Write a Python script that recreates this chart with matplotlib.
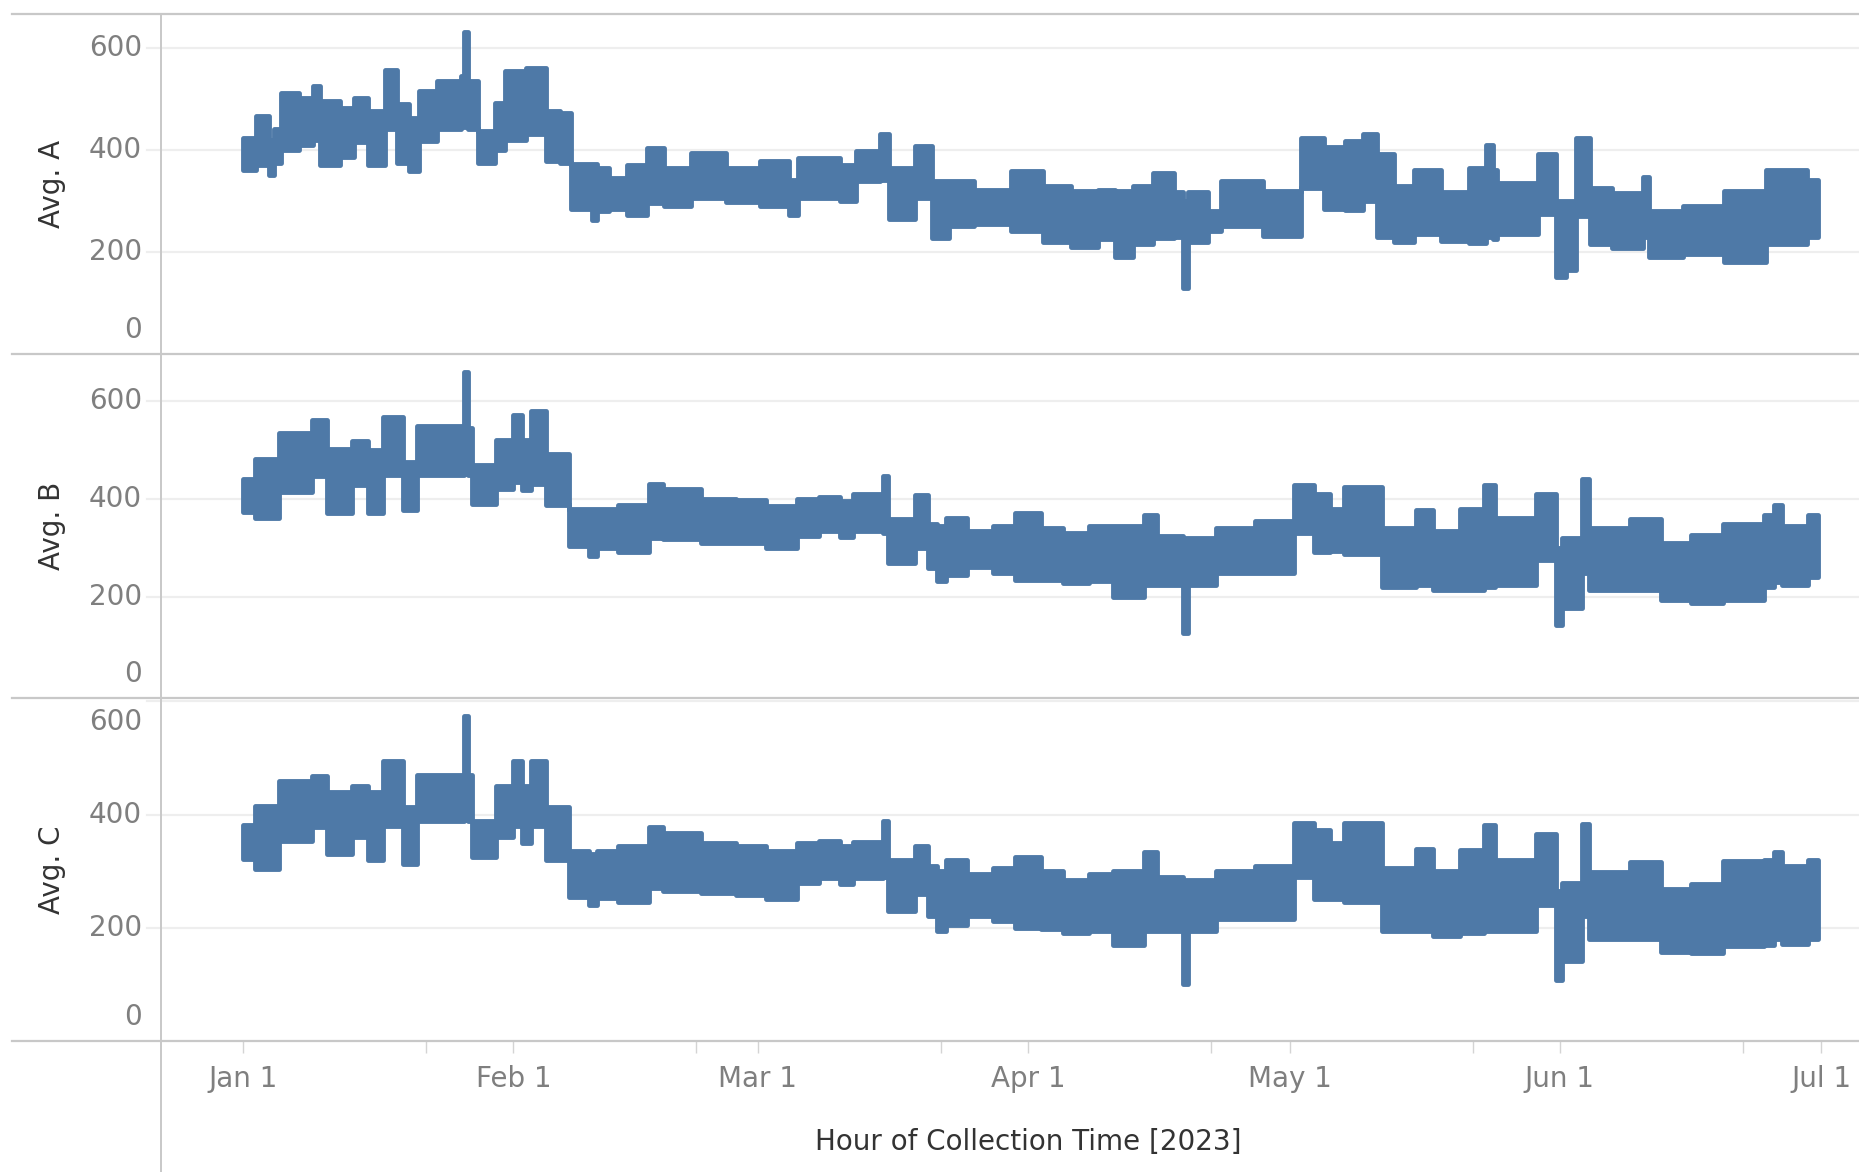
import matplotlib
matplotlib.use("Agg")
import matplotlib.pyplot as plt
import matplotlib.dates as mdates
from matplotlib.lines import Line2D
from matplotlib.ticker import FuncFormatter
import pandas as pd

# hourly sensor averages, summarised as stretches of days (start day after Jan 1 2023)
# with the lowest and highest hourly value in each stretch
a_day = [0.0, 1.5, 3.0, 3.6, 4.4, 6.4, 8.0, 8.8, 11.1, 12.7, 14.3, 16.3, 17.7, 19.0, 20.2,
         22.2, 25.0, 25.3, 25.8, 26.9, 28.9, 30.1, 32.5, 34.8, 36.4, 37.6, 40.0, 40.6, 42.0,
         44.0, 46.3, 48.3, 51.4, 55.4, 59.3, 62.6, 63.6, 68.4, 70.3, 73.1, 74.1, 77.1, 79.0,
         81.0, 83.8, 88.1, 91.7, 95.0, 98.0, 100.0, 102.0, 104.3, 106.7, 107.8, 108.4, 110.6,
         112.2, 117.0, 121.3, 124.0, 126.4, 128.4, 130.0, 132.0, 134.3, 137.4, 140.6, 142.5,
         143.3, 143.8, 148.5, 150.5, 151.7, 152.9, 154.4, 157.0, 160.5, 161.2, 165.1, 169.8,
         174.6, 179.3]
a_lo = [361, 370, 350, 375, 400, 410, 420, 370, 385, 415, 370, 440, 375, 358, 417,
        440, 445, 445, 440, 375, 400, 420, 430, 378, 375, 285, 262, 280, 285,
        272, 295, 290, 305, 298, 290, 272, 305, 300, 338, 340, 265, 306, 228,
        250, 254, 240, 220, 210, 225, 190, 215, 227, 230, 130, 220, 240,
        250, 232, 325, 285, 282, 299, 230, 220, 235, 222, 218, 230,
        225, 235, 274, 150, 165, 270, 215, 208, 230, 190, 195, 180,
        215, 230]
a_hi = [423, 466, 420, 440, 512, 502, 525, 495, 482, 502, 476, 557, 490, 463, 515,
        535, 545, 630, 535, 437, 492, 555, 560, 476, 473, 372, 372, 365, 345,
        370, 404, 365, 394, 365, 378, 340, 383, 370, 398, 430, 365, 408, 339,
        339, 322, 358, 330, 320, 322, 320, 330, 355, 318, 300, 318, 280,
        339, 320, 423, 405, 417, 430, 392, 330, 360, 318, 365, 410,
        360, 335, 392, 299, 299, 423, 325, 315, 346, 280, 290, 320,
        360, 340]

bc_day = [0.0, 1.4, 4.1, 7.9, 9.6, 12.5, 14.3, 16.0, 18.4, 20.0, 25.3, 25.8, 26.3, 29.0,
          31.0, 32.0, 33.0, 34.8, 37.4, 39.7, 40.6, 43.0, 46.5, 48.2, 52.5, 56.5, 60.0,
          63.5, 66.0, 68.5, 70.0, 73.4, 74.0, 77.0, 78.5, 79.6, 80.6, 83.0, 86.0, 88.5,
          91.5, 94.0, 97.0, 99.8, 103.3, 104.8, 107.8, 108.4, 111.6, 116.0, 120.5, 122.8,
          124.6, 126.2, 130.6, 134.5, 136.5, 139.5, 142.3, 143.6, 148.3, 150.6, 151.3,
          153.5, 154.3, 159.0, 162.6, 166.0, 169.7, 174.4, 175.5, 176.5, 179.5]
b_lo = [374, 361, 414, 448, 371, 428, 371, 450, 378, 450, 455, 450, 390, 420,
        435, 418, 430, 388, 305, 284, 300, 292, 320, 318, 310, 310, 300,
        325, 335, 322, 335, 330, 270, 300, 260, 233, 245, 262, 250, 235,
        235, 228, 232, 200, 225, 225, 126, 225, 250, 250, 330, 292,
        295, 288, 220, 225, 215, 215, 220, 225, 275, 143, 177,
        250, 215, 215, 195, 188, 195, 220, 230, 225, 240]
b_hi = [441, 481, 535, 562, 502, 518, 501, 568, 475, 550, 659, 545, 470, 520,
        572, 520, 580, 491, 380, 380, 380, 388, 431, 420, 400, 398, 385,
        400, 405, 395, 410, 448, 360, 408, 350, 345, 361, 335, 345, 372,
        340, 330, 345, 344, 367, 325, 320, 320, 340, 355, 428, 410,
        380, 424, 340, 378, 335, 380, 428, 362, 411, 300, 320,
        441, 340, 360, 310, 327, 350, 367, 388, 345, 367]
c_lo = [322, 304, 354, 378, 330, 360, 320, 380, 313, 388, 395, 388, 325, 360,
        380, 350, 380, 319, 255, 240, 252, 245, 270, 265, 262, 258, 250,
        280, 288, 278, 288, 290, 230, 260, 220, 195, 205, 220, 212, 200,
        198, 190, 195, 170, 195, 195, 101, 195, 215, 215, 290, 250,
        250, 245, 195, 195, 185, 190, 195, 195, 240, 107, 142,
        220, 180, 180, 158, 155, 168, 170, 180, 172, 180]
c_hi = [381, 416, 460, 469, 440, 450, 440, 495, 413, 470, 575, 470, 389, 450,
        495, 450, 495, 413, 335, 330, 335, 345, 378, 368, 350, 345, 335,
        350, 354, 345, 352, 389, 319, 345, 310, 300, 319, 295, 305, 325,
        301, 285, 295, 301, 334, 290, 285, 285, 300, 310, 385, 372,
        350, 385, 305, 340, 300, 338, 381, 320, 366, 265, 280,
        384, 298, 316, 269, 278, 318, 320, 334, 310, 320]
last_day = 180.6

titles = ["Avg. A", "Avg. B", "Avg. C"]
y_ticks = [0, 200, 400, 600]
x_title = "Hour of Collection Time [2023]"

W, H = 1859, 1172
blue = "#4e79a7"
tick_grey = "#7f7f7f"
dark = "#333333"
rule = "#c8c8c8"

start = pd.Timestamp("2023-01-01")


def to_num(days):
    return mdates.date2num([start + pd.Timedelta(days=d) for d in days])


fig = plt.figure(figsize=(W / 100, H / 100), dpi=100)
fig.patch.set_facecolor("white")

# pane edges in pixels (top, bottom) and y ranges for each pane
pane_px = [(14, 354), (354, 698), (698, 1041)]
y_ranges = [(0, 666), (-6, 696), (0, 606)]
left_px = 161
x_lo, x_hi = to_num([-9.4, 185.3])

series = [(a_day, a_lo, a_hi), (bc_day, b_lo, b_hi), (bc_day, c_lo, c_hi)]
axes = []
for i, (days, lo, hi) in enumerate(series):
    top, bot = pane_px[i]
    ax = fig.add_axes([left_px / W, 1 - bot / H, 1 - left_px / W, (bot - top) / H])
    ax.set_facecolor("none")
    for sp in ax.spines.values():
        sp.set_visible(False)
    ymin, ymax = y_ranges[i]
    ax.set_ylim(ymin, ymax)
    ax.set_xlim(x_lo, x_hi)
    ax.set_yticks([])

    for v in y_ticks[1:]:
        ax.axhline(v, xmin=-14 / (W - left_px), xmax=1, color="#eeeeee", lw=1.6,
                   zorder=0, clip_on=False)

    # tableau keeps the axis labels inside the pane
    ppu = (bot - top) / (ymax - ymin)
    margin = 24 / ppu
    for v in y_ticks:
        yv = min(max(v, ymin + margin), ymax - margin)
        ax.annotate(str(v), xy=(0, yv), xycoords=("axes fraction", "data"),
                    xytext=(-19 * 0.72, 0), textcoords="offset points",
                    ha="right", va="center", fontsize=20, color=tick_grey,
                    annotation_clip=False)

    x = to_num(list(days) + [last_day])
    ax.fill_between(x, list(lo) + [lo[-1]], list(hi) + [hi[-1]], step="post",
                    facecolor=blue, edgecolor=blue, linewidth=3.5, joinstyle="round",
                    zorder=3)

    fig.text(52 / W, 1 - (top + bot) / 2 / H, titles[i], rotation=90, ha="center",
             va="center", fontsize=20, color=dark)
    axes.append(ax)

for ax in axes:
    ax.xaxis.set_major_locator(mdates.MonthLocator())
    ax.xaxis.set_minor_locator(mdates.MonthLocator(bymonthday=22))
    ax.xaxis.set_major_formatter(FuncFormatter(
        lambda v, p: mdates.num2date(v).strftime("%b") + " " + str(mdates.num2date(v).day)))
    ax.tick_params(axis="x", which="both", length=8.5, width=1, color="#d4d4d4",
                   labelsize=20, labelcolor=tick_grey, pad=9)
for ax in axes[:2]:
    ax.tick_params(axis="x", which="both", bottom=False, labelbottom=False)

# pane rules and the vertical axis line
for y in [14, 354, 698, 1041]:
    fig.add_artist(Line2D([12 / W, 1], [1 - y / H, 1 - y / H], color=rule, lw=1.6))
fig.add_artist(Line2D([left_px / W, left_px / W], [1 - 14 / H, 0], color=rule, lw=1.4))

fig.text(1028 / W, 1 - 1142 / H, x_title, ha="center", va="center", fontsize=20,
         color=dark)

fig.savefig("out.png", dpi=100, facecolor="white")
